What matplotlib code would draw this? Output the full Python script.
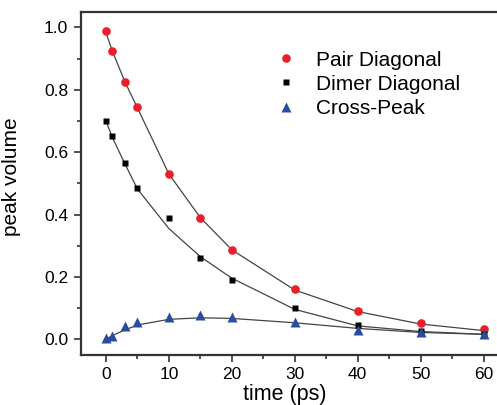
import matplotlib
matplotlib.use("Agg")
import matplotlib.pyplot as plt
from matplotlib.ticker import MultipleLocator, FormatStrFormatter

plt.rcParams['font.family'] = ['Liberation Sans', 'DejaVu Sans']

# delay times (ps)
time_ps = [0, 1, 3, 5, 10, 15, 20, 30, 40, 50, 60]

# measured peak volumes
pair_diag = [0.989, 0.924, 0.824, 0.746, 0.531, 0.390, 0.287, 0.160, 0.091, 0.052, 0.032]
dimer_diag = [0.701, 0.651, 0.565, 0.485, 0.388, 0.262, 0.190, 0.099, 0.046, 0.027, 0.016]
cross_peak = [0.005, 0.010, 0.043, 0.056, 0.070, 0.077, 0.072, 0.055, 0.030, 0.022, 0.016]

# kinetic model fit evaluated at the same delays
pair_fit = [0.983, 0.925, 0.826, 0.742, 0.530, 0.390, 0.287, 0.158, 0.089, 0.049, 0.028]
dimer_fit = [0.700, 0.648, 0.563, 0.482, 0.355, 0.265, 0.196, 0.096, 0.043, 0.025, 0.016]
cross_fit = [0.000, 0.012, 0.030, 0.046, 0.064, 0.069, 0.067, 0.053, 0.035, 0.022, 0.016]

series_labels = ["Pair Diagonal", "Dimer Diagonal", "Cross-Peak"]

red = '#EA1F29'
blue = '#2A4C9F'
line_col = '#444444'

fig = plt.figure(figsize=(4.97, 4.05), dpi=100)
ax = fig.add_axes([0.1626, 0.1237, 0.861, 0.847])

for fit in (pair_fit, dimer_fit, cross_fit):
    ax.plot(time_ps, fit, color=line_col, lw=0.9, zorder=2)

ax.plot(time_ps, pair_diag, 'o', ms=6.2, color=red, mec='none', label=series_labels[0], zorder=3)
ax.plot(time_ps, dimer_diag, 's', ms=5.0, color='black', mec='none', label=series_labels[1], zorder=3)
ax.plot(time_ps, cross_peak, '^', ms=6.5, color=blue, mec='none', label=series_labels[2], zorder=3)

ax.set_xlim(-4, 64)
ax.set_ylim(-0.05, 1.05)
ax.xaxis.set_major_locator(MultipleLocator(10))
ax.xaxis.set_minor_locator(MultipleLocator(5))
ax.yaxis.set_major_locator(MultipleLocator(0.2))
ax.yaxis.set_minor_locator(MultipleLocator(0.1))
ax.yaxis.set_major_formatter(FormatStrFormatter('%.1f'))

for s in ax.spines.values():
    s.set_linewidth(1.6)
    s.set_color('#333333')
ax.tick_params(which='major', direction='out', length=5, width=1.2, color='#333333',
               labelsize=12.5, pad=4)
ax.tick_params(which='minor', direction='out', length=3, width=1.2, color='#333333')

ax.set_xlabel("time (ps)", fontsize=15.5)
ax.xaxis.set_label_coords(0.477, -0.086)
ax.set_ylabel("peak volume", fontsize=15)
ax.yaxis.set_label_coords(-0.14, 0.52)

leg = ax.legend(loc='upper left', bbox_to_anchor=(276 / 497, 1 - 50.5 / 405),
                bbox_transform=fig.transFigure, frameon=False, fontsize=15,
                handlelength=1.0, handletextpad=0.9, labelspacing=0.25,
                borderpad=0, borderaxespad=0, numpoints=1)

fig.savefig("out.png", dpi=100)
